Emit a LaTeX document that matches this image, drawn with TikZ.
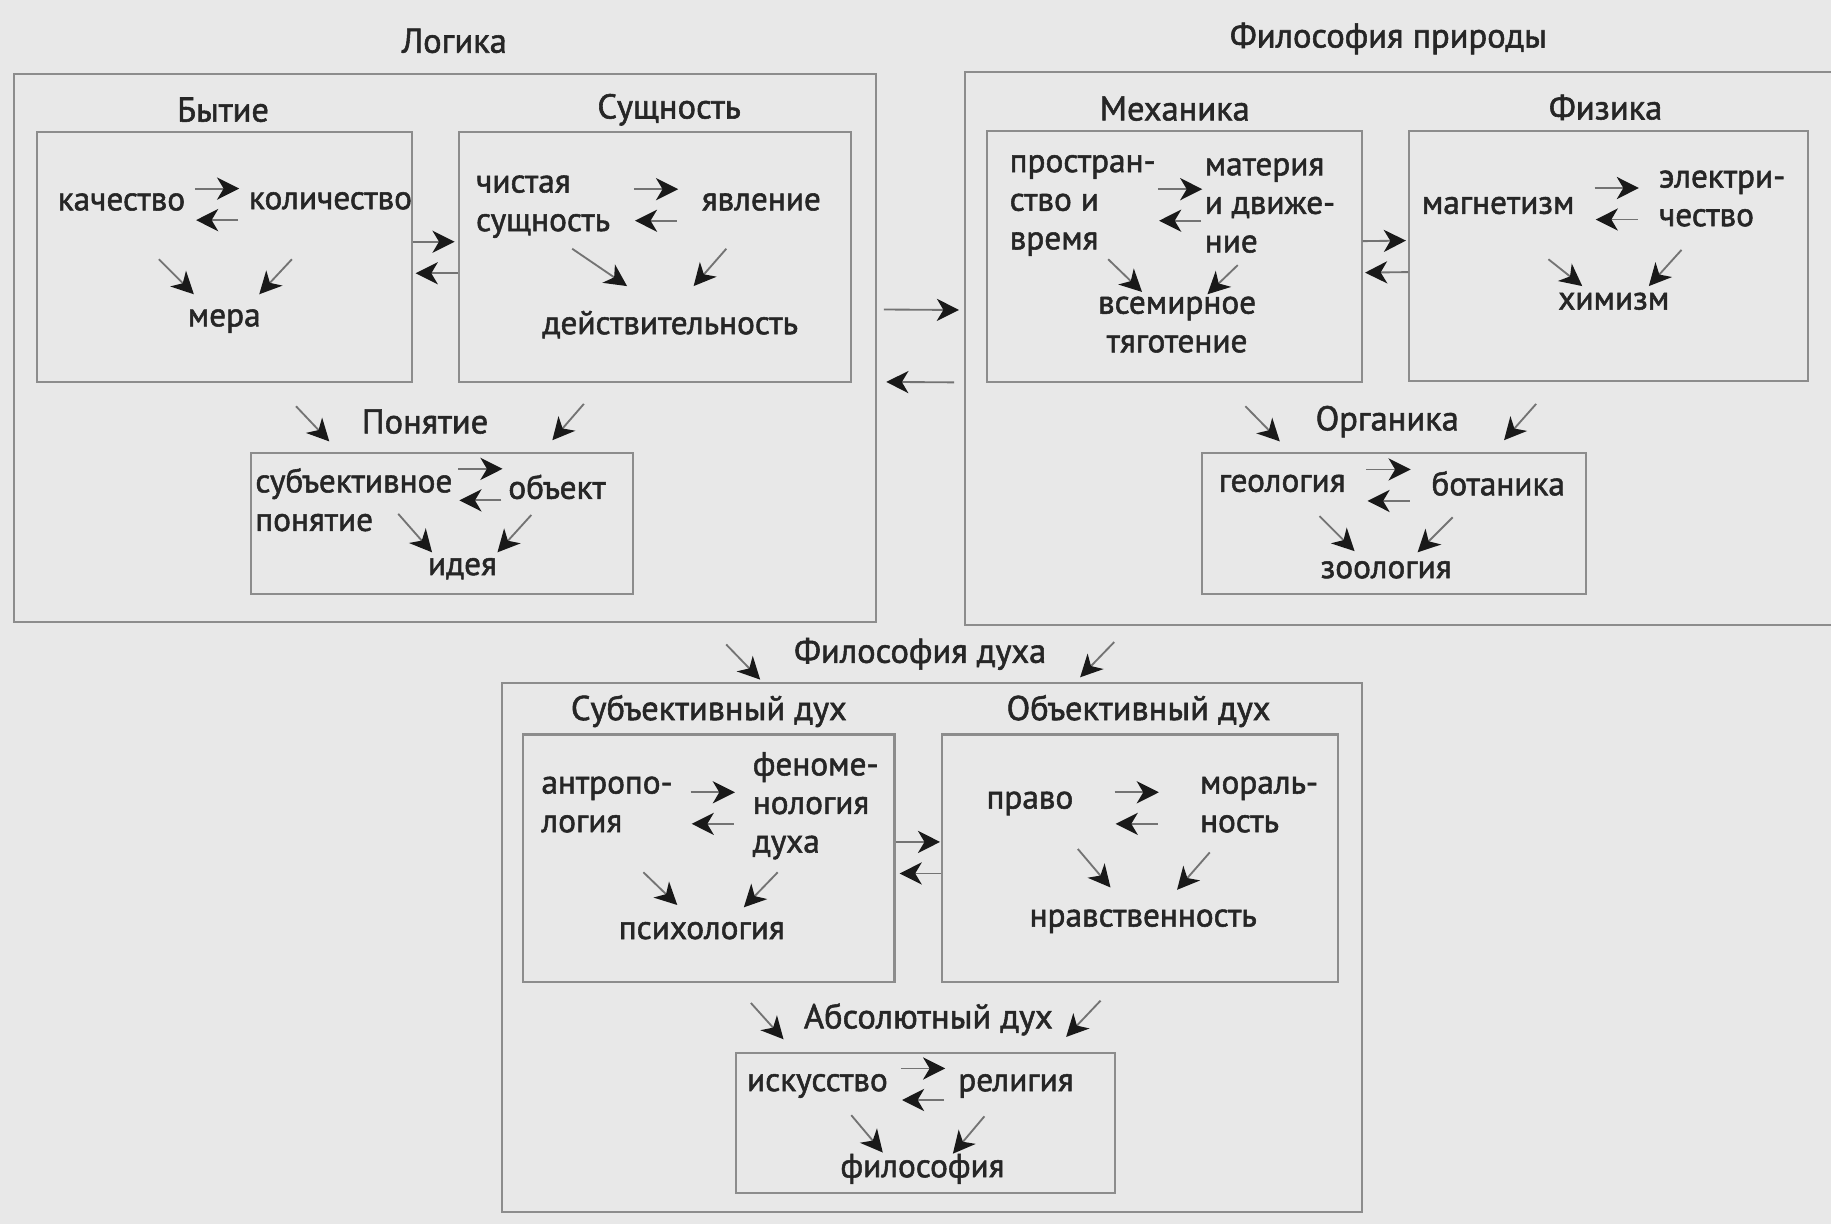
\documentclass[tikz,border=0pt]{standalone}
\usepackage{fontspec}
\setmainfont{PT Sans}[UprightFeatures={FakeBold=1.6}]
\usetikzlibrary{arrows.meta,calc,fit}

% pair of opposite arrows between two words
\newcommand{\swap}[3]{%
  \coordinate (mid) at ($(#1.east)!.5!(#2.west)$);
  \draw[arr] ([shift={(-19,#3)}]mid) -- ([shift={(19,#3)}]mid);
  \draw[arr] ([shift={(18,#3+27)}]mid) -- ([shift={(-18,#3+27)}]mid);
}

\begin{document}
\begin{tikzpicture}[x=0.01cm,y=-0.01cm,
    box/.style={draw=black!45,line width=0.5pt,inner sep=0pt},
    title/.style={font=\fontsize{8.4}{9.4}\selectfont,text=black!85,inner sep=0pt},
    word/.style={font=\fontsize{8.1}{9.4}\selectfont,text=black!85,inner sep=0pt,align=left},
    arr/.style={draw=black!55,line width=0.45pt,
      -{Stealth[length=5.4pt,width=5.4pt,inset=1.6pt,color=black!90]}}]

  \fill[black!9] (0,0) rectangle (1568,1048);
  \useasboundingbox (0,0) rectangle (1568,1048);

  % titles
  \node[title] (tLog) at (389,35) {Логика};
  \node[title] (tNat) at (1189,33) {Философия природы};
  \node[title] (tSpi) at (788,560) {Философия духа};
  \node[title] (tBy) at (191,94) {Бытие};
  \node[title] (tSu) at (573,94) {Сущность};
  \node[title] (tPo) at (364,361) {Понятие};
  \node[title] (tMe) at (1006,93) {Механика};
  \node[title] (tFi) at (1375,92) {Физика};
  \node[title] (tOr) at (1188,361) {Органика};
  \node[title] (tSd) at (607,609) {Субъективный дух};
  \node[title] (tOd) at (975,609) {Объективный дух};
  \node[title] (tAd) at (795,873) {Абсолютный дух};

  % frames
  \node[box,fit={(12,63) (750,533)}] (logic) {};
  \node[box,fit={(826,62) (1590,535)}] (nature) {};
  \node[box,fit={(430,585) (1166,1038)}] (spirit) {};
  \node[box,fit={(32,113) (353,327)}] (bytie) {};
  \node[box,fit={(393,113) (729,327)}] (sushch) {};
  \node[box,fit={(215,388) (542,509)}] (ponbox) {};
  \node[box,fit={(845,112) (1166,327)}] (mech) {};
  \node[box,fit={(1207,112) (1548,326)}] (fiz) {};
  \node[box,fit={(1029,388) (1358,509)}] (orgbox) {};
  \node[box,fit={(448,629) (766,841)}] (subd) {};
  \node[box,fit={(807,629) (1146,841)}] (objd) {};
  \node[box,fit={(630,902) (955,1022)}] (absbox) {};

  % words
  \node[word] (kach) at (104,173) {качество};
  \node[word] (kol) at (283,172) {количество};
  \node[word] (mera) at (192,275) {мера};
  \node[word,anchor=west] (chist) at (407,177) {чистая\\сущность};
  \node[word] (yavl) at (652,173) {явление};
  \node[word] (deistv) at (574,278) {действительность};
  \node[word,anchor=west] (subp) at (218,428) {субъективное\\понятие};
  \node[word] (obek) at (477,417) {объект};
  \node[word] (ideya) at (396,487) {идея};
  \node[word,anchor=west] (prostr) at (864,176) {простран-\\ство и\\время};
  \node[word,anchor=west] (mater) at (1031,176) {материя\\и движе-\\ние};
  \node[word,align=center] (tyag) at (1008,278) {всемирное\\тяготение};
  \node[word] (magn) at (1283,176) {магнетизм};
  \node[word,anchor=west] (elek) at (1420,170) {электри-\\чество};
  \node[word] (khim) at (1382,258) {химизм};
  \node[word] (geol) at (1098,414) {геология};
  \node[word] (botan) at (1283,414) {ботаника};
  \node[word] (zool) at (1187,488) {зоология};
  \node[word,anchor=west] (antr) at (463,689) {антропо-\\логия};
  \node[word,anchor=west] (fenom) at (644,690) {феноме-\\нология\\духа};
  \node[word] (psikh) at (601,797) {психология};
  \node[word] (pravo) at (882,688) {право};
  \node[word,anchor=west] (moral) at (1027,689) {мораль-\\ность};
  \node[word] (nravst) at (979,789) {нравственность};
  \node[word] (isk) at (700,930) {искусство};
  \node[word] (relig) at (870,930) {религия};
  \node[word] (filos) at (790,1001) {философия};

  % opposite arrows
  \swap{kach}{kol}{-11}
  \swap{chist}{yavl}{-13}
  \swap{subp}{obek}{-21}
  \swap{prostr}{mater}{-14}
  \swap{magn}{elek}{-12}
  \swap{geol}{botan}{-12}
  \swap{antr}{fenom}{-11}
  \swap{pravo}{moral}{-10}
  \swap{isk}{relig}{-15}

  % arrows between frames
  \draw[arr,shorten >=0.8pt] ([shift={(0,-13)}]bytie.east) -- ([shift={(0,-13)}]sushch.west);
  \draw[arr,shorten >=0.6pt] ([shift={(0,14)}]sushch.west) -- ([shift={(0,14)}]bytie.east);
  \draw[arr,shorten <=1.7pt,shorten >=1.1pt] ([shift={(0,-33)}]logic.east) -- ([shift={(0,-33)}]nature.west);
  \draw[arr,shorten <=2.3pt,shorten >=2.3pt] ([shift={(0,29)}]nature.west) -- ([shift={(0,29)}]logic.east);
  \draw[arr,shorten >=0.6pt] ([shift={(0,-13)}]mech.east) -- ([shift={(0,-13)}]fiz.west);
  \draw[arr,shorten >=0.6pt] ([shift={(0,14)}]fiz.west) -- ([shift={(0,14)}]mech.east);
  \draw[arr,shorten >=0.3pt] ([shift={(0,-14)}]subd.east) -- ([shift={(0,-14)}]objd.west);
  \draw[arr,shorten >=1pt] ([shift={(0,13)}]objd.west) -- ([shift={(0,13)}]subd.east);

  % arrows down to the third term
  \draw[arr] ([shift={(32,49)}]kach.center) -- ([shift={(-26,-23)}]mera.center);
  \draw[arr] ([shift={(-33,50)}]kol.center) -- ([shift={(30,-23)}]mera.center);
  \draw[arr] ([shift={(83,36)}]chist.west) -- ([shift={(-37,-33)}]deistv.center);
  \draw[arr] ([shift={(-30,40)}]yavl.center) -- ([shift={(20,-33)}]deistv.center);
  \draw[arr] ([shift={(123,12)}]subp.west) -- ([shift={(-26,-14)}]ideya.center);
  \draw[arr] ([shift={(-22,24)}]obek.center) -- ([shift={(30,-14)}]ideya.center);
  \draw[arr] ([shift={(85,46)}]prostr.west) -- ([shift={(-30,-28)}]tyag.center);
  \draw[arr] ([shift={(29,51)}]mater.west) -- ([shift={(26,-26)}]tyag.center);
  \draw[arr] ([shift={(43,46)}]magn.center) -- ([shift={(-27,-13)}]khim.center);
  \draw[arr] ([shift={(20,44)}]elek.west) -- ([shift={(30,-13)}]khim.center);
  \draw[arr] ([shift={(32,28)}]geol.center) -- ([shift={(-27,-16)}]zool.center);
  \draw[arr] ([shift={(-39,29)}]botan.center) -- ([shift={(27,-15)}]zool.center);
  \draw[arr] ([shift={(88,58)}]antr.west) -- ([shift={(-21,-22)}]psikh.center);
  \draw[arr] ([shift={(22,57)}]fenom.west) -- ([shift={(36,-20)}]psikh.center);
  \draw[arr] ([shift={(41,39)}]pravo.center) -- ([shift={(-28,-29)}]nravst.center);
  \draw[arr] ([shift={(9,41)}]moral.west) -- ([shift={(29,-27)}]nravst.center);
  \draw[arr] ([shift={(29,25)}]isk.center) -- ([shift={(-34,-14)}]filos.center);
  \draw[arr] ([shift={(-27,26)}]relig.center) -- ([shift={(26,-13)}]filos.center);

  % arrows from frames to the next stage
  \draw[arr] ([shift={(61,20)}]bytie.south) -- ([shift={(-82,17)}]tPo.center);
  \draw[arr] ([shift={(-61,18)}]sushch.south) -- ([shift={(109,16)}]tPo.center);
  \draw[arr] ([shift={(61,20)}]mech.south) -- ([shift={(-92,17)}]tOr.center);
  \draw[arr] ([shift={(-62,19)}]fiz.south) -- ([shift={(100,16)}]tOr.center);
  \draw[arr] ([shift={(-129,18)}]logic.south east) -- ([shift={(-137,22)}]tSpi.center);
  \draw[arr] ([shift={(129,14)}]nature.south west) -- ([shift={(137,20)}]tSpi.center);
  \draw[arr] ([shift={(36,17)}]subd.south) -- ([shift={(-124,17)}]tAd.center);
  \draw[arr] ([shift={(-34,15)}]objd.south) -- ([shift={(118,15)}]tAd.center);
\end{tikzpicture}
\end{document}
